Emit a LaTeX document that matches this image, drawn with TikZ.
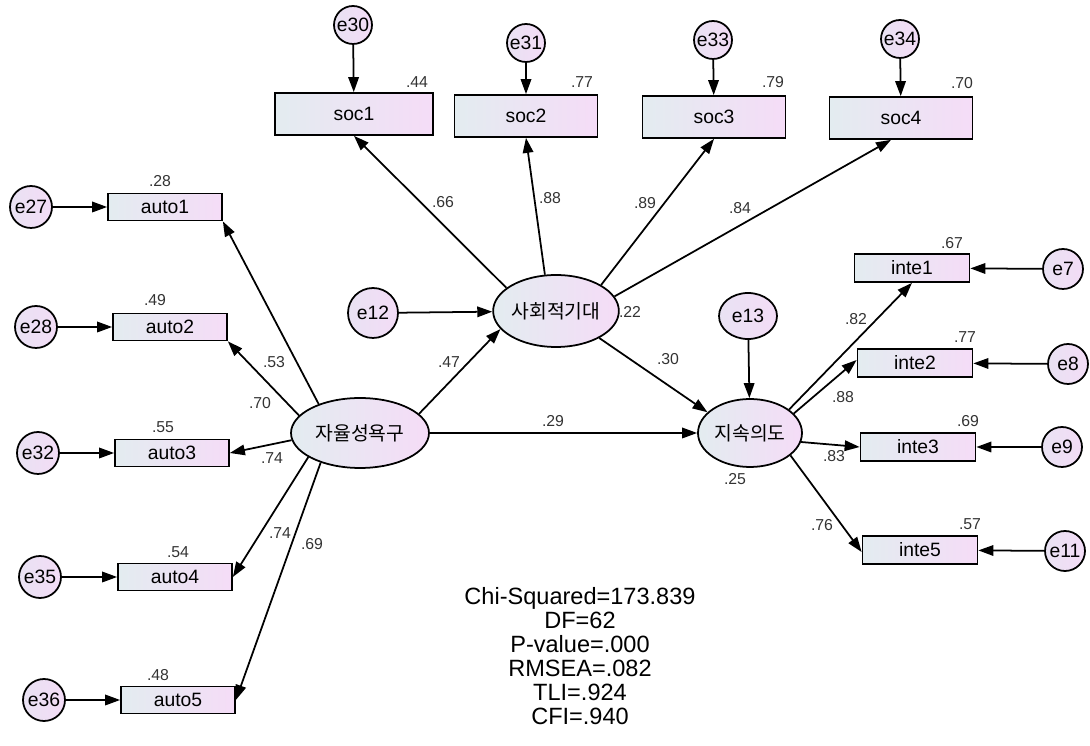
\documentclass[tikz,border=0pt]{standalone}
\usepackage{fontspec}
\setmainfont{Liberation Sans}
\newfontfamily\krfont{Noto Sans CJK KR}
\usetikzlibrary{arrows.meta,shapes.geometric}
\definecolor{boxleft}{HTML}{E3ECF0}
\definecolor{boxright}{HTML}{F5DCF7}
\definecolor{errleft}{HTML}{E9E2F3}
\definecolor{errright}{HTML}{F3DCF6}
\definecolor{numgray}{HTML}{333333}

\begin{document}
\begin{tikzpicture}[x=0.02cm, y=-0.02cm, >={Triangle[length=3mm,width=2.1mm]},
  obs/.style={draw, line width=1pt, left color=boxleft, right color=boxright, minimum width=2.28cm, minimum height=0.54cm, inner sep=0pt, font=\fontsize{11}{13}\selectfont},
  socbox/.style={obs, minimum width=2.86cm, minimum height=0.84cm},
  intebox/.style={obs, minimum width=2.3cm, minimum height=0.56cm},
  err/.style={circle, draw, line width=1pt, left color=errleft, right color=errright, minimum size=0.84cm, inner sep=0pt, font=\fontsize{11}{13}\selectfont},
  lat/.style={ellipse, draw, line width=1pt, left color=boxleft, right color=boxright, inner sep=0pt, font=\krfont\fontsize{11}{13}\selectfont},
  lbl/.style={text=numgray, inner sep=0pt, font=\fontsize{9}{10}\selectfont},
  every path/.style={line width=1pt}]
\path[use as bounding box] (0,0) rectangle (1090,746);
% latent variables
\node[lat, minimum width=2.76cm, minimum height=1.4cm] (auton) at (360,433) {자율성욕구};
\node[lat, minimum width=2.36cm, minimum height=1.44cm] (socexp) at (556,311) {사회적기대};
\node[lat, minimum width=2.08cm, minimum height=1.36cm] (intent) at (750,433) {지속의도};
\node[err, minimum size=1cm] (e12) at (373,313) {e12};
\node[err, ellipse, minimum width=1.16cm, minimum height=0.92cm] (e13) at (748,316) {e13};
% autonomy indicators
\node[obs] (auto1) at (165,207) {auto1};
\node[obs] (auto2) at (170,327) {auto2};
\node[obs] (auto3) at (172,453) {auto3};
\node[obs] (auto4) at (175,577) {auto4};
\node[obs] (auto5) at (178,700) {auto5};
\node[err] (e27) at (31,207) {e27};
\node[err] (e28) at (36,327) {e28};
\node[err] (e32) at (38,453) {e32};
\node[err] (e35) at (40,577) {e35};
\node[err] (e36) at (44,700) {e36};
% social expectation indicators
\node[socbox, minimum width=3.16cm] (soc1) at (354,114) {soc1};
\node[socbox] (soc2) at (526,116) {soc2};
\node[socbox] (soc3) at (714,117) {soc3};
\node[socbox] (soc4) at (901,118) {soc4};
\node[err, minimum size=0.76cm] (e30) at (353,25) {e30};
\node[err, minimum size=0.76cm] (e31) at (526,43) {e31};
\node[err, minimum size=0.76cm] (e33) at (713,40) {e33};
\node[err, minimum size=0.76cm] (e34) at (900,39) {e34};
% intention indicators
\node[intebox] (inte1) at (912,268) {inte1};
\node[intebox] (inte2) at (915,363) {inte2};
\node[intebox] (inte3) at (918,447) {inte3};
\node[intebox] (inte5) at (920,550) {inte5};
\node[err, minimum size=0.8cm] (e7) at (1063,269) {e7};
\node[err, minimum size=0.8cm] (e8) at (1068,364) {e8};
\node[err, minimum size=0.8cm] (e9) at (1062,447) {e9};
\node[err, minimum size=0.8cm] (e11) at (1065,551) {e11};
% paths
\draw[->] (e27) -- (auto1);
\draw[->] (e28) -- (auto2);
\draw[->] (e32) -- (auto3);
\draw[->] (e35) -- (auto4);
\draw[->] (e36) -- (auto5);
\draw[->] (auton.145) -- (auto1.south east);
\draw[->] (auton.164) -- (auto2.south east);
\draw[->] (auton.186) -- (auto3.east);
\draw[->] (auton.205) -- (auto4.east);
\draw[->] (auton.217) -- (auto5.east);
\draw[->] (e30) -- (soc1);
\draw[->] (e31) -- (soc2);
\draw[->] (e33) -- (soc3);
\draw[->] (e34) -- (soc4);
\draw[->] (socexp.155) -- (soc1.south);
\draw[->] (socexp.107) -- (soc2.south);
\draw[->] (socexp.30) -- (soc3.south);
\draw[->] (socexp.14) -- ([xshift=-0.2cm]soc4.south);
\draw[->] (e12) -- (socexp);
\draw[->] (e13) -- (intent);
\draw[->] (auton.18) -- (socexp.198);
\draw[->] (auton) -- (intent);
\draw[->] (socexp.328) -- (intent.154);
\draw[->] (intent.31) -- (inte1.south);
\draw[->] (intent.24) -- ([yshift=0.06cm]inte2.west);
\draw[->] (intent.350) -- (inte3.west);
\draw[->] (intent.331) -- ([yshift=-0.04cm]inte5.west);
\draw[->] (e7) -- (inte1);
\draw[->] (e8) -- (inte2);
\draw[->] (e9) -- (inte3);
\draw[->] (e11) -- (inte5);
% estimates
\node[lbl] (r28) at (160,181) {.28};
\node[lbl] (r49) at (155,300) {.49};
\node[lbl] (r55) at (163,427) {.55};
\node[lbl] (r54) at (178,552) {.54};
\node[lbl] (r48) at (158,675) {.48};
\node[lbl] (l53) at (274,362) {.53};
\node[lbl] (l70) at (260,403) {.70};
\node[lbl] (l74a) at (272,458) {.74};
\node[lbl] (l74b) at (280,533) {.74};
\node[lbl] (l69) at (312,544) {.69};
\node[lbl] (r44) at (417,82) {.44};
\node[lbl] (r77a) at (582,82) {.77};
\node[lbl] (r79) at (773,82) {.79};
\node[lbl] (r70) at (962,83) {.70};
\node[lbl] (l66) at (443,202) {.66};
\node[lbl] (l88a) at (550,198) {.88};
\node[lbl] (l89) at (645,203) {.89};
\node[lbl] (l84) at (740,208) {.84};
\node[lbl] (l47) at (449,362) {.47};
\node[lbl] (r22) at (630,312) {.22};
\node[lbl] (l30) at (668,359) {.30};
\node[lbl] (l29) at (553,421) {.29};
\node[lbl] (r67) at (952,243) {.67};
\node[lbl] (r77b) at (965,337) {.77};
\node[lbl] (r69) at (968,421) {.69};
\node[lbl] (r57) at (970,524) {.57};
\node[lbl] (l82) at (856,319) {.82};
\node[lbl] (l88b) at (843,397) {.88};
\node[lbl] (l83) at (834,456) {.83};
\node[lbl] (l76) at (822,525) {.76};
\node[lbl] (r25) at (735,479) {.25};
% fit indices
\node[align=center, inner sep=0pt, font=\fontsize{13.4}{13.6}\selectfont] (fit) at (580,656)
  {Chi-Squared=173.839\\DF=62\\P-value=.000\\RMSEA=.082\\TLI=.924\\CFI=.940};
\end{tikzpicture}
\end{document}
